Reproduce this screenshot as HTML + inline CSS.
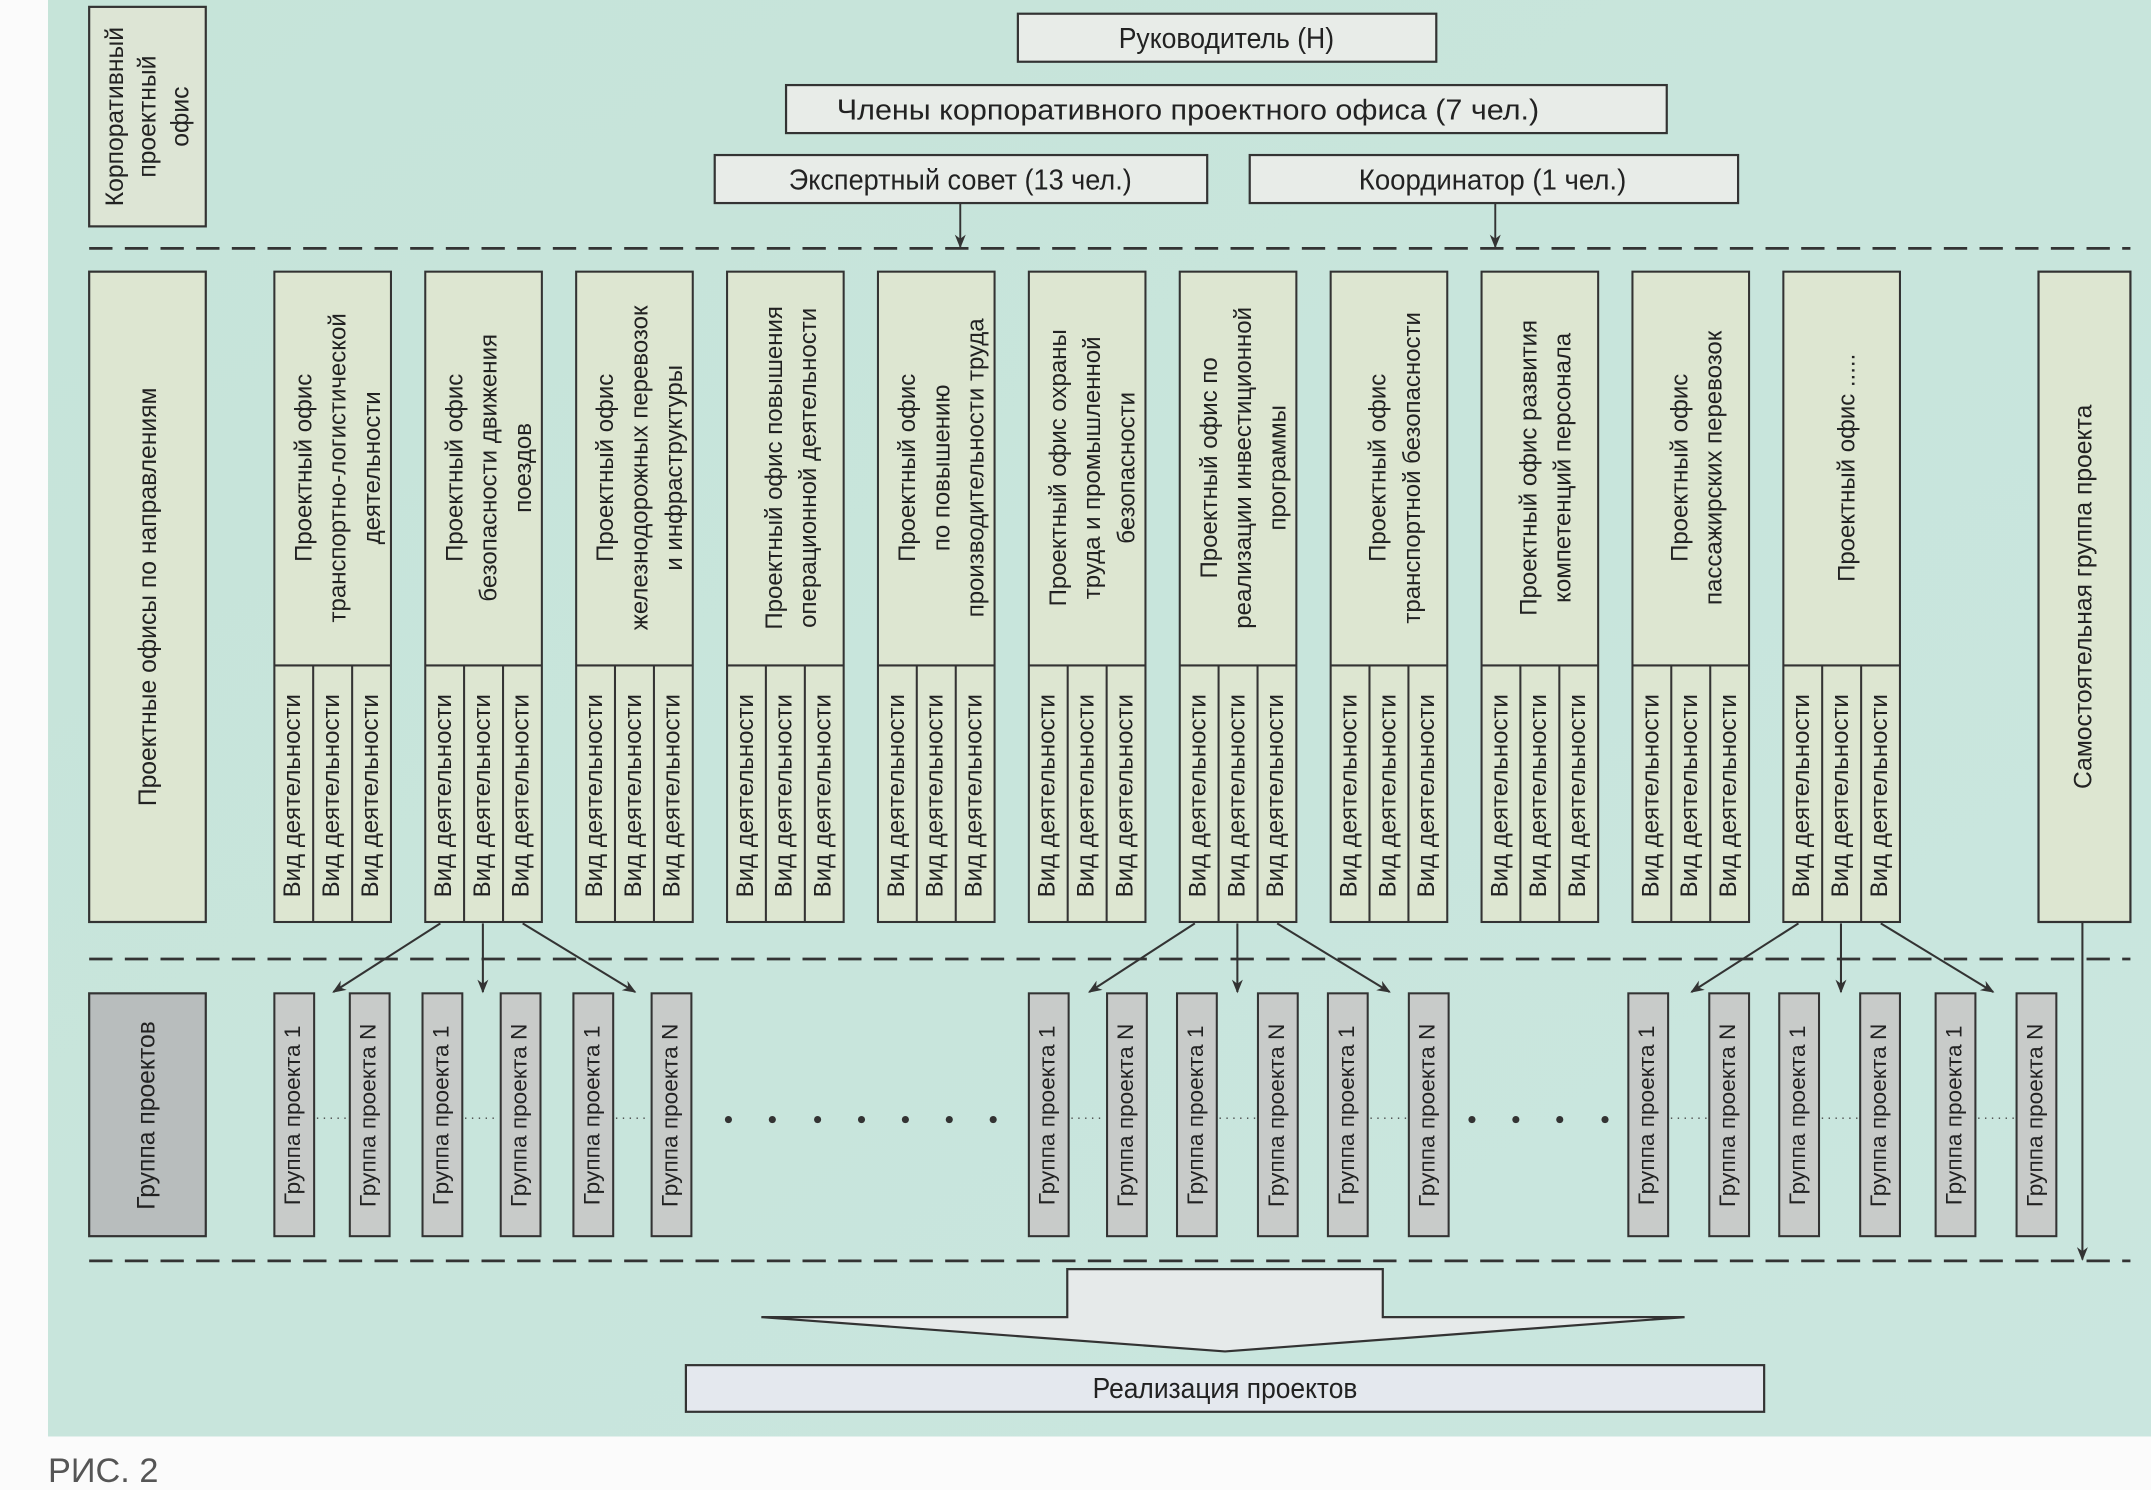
<!DOCTYPE html>
<html><head><meta charset="utf-8"><style>
html,body{margin:0;padding:0;background:#fff;}
svg{display:block;}
text{font-family:"Liberation Sans",Arial,sans-serif;fill:#222;}
</style></head><body>
<svg width="2151" height="1490" viewBox="0 0 1568 1086" preserveAspectRatio="none" xmlns="http://www.w3.org/2000/svg">
<defs>
<marker id="ah" markerWidth="10" markerHeight="10" refX="9" refY="5" orient="auto" markerUnits="userSpaceOnUse">
<path d="M0,1 L10,5 L0,9 L3,5 Z" fill="#333"/>
</marker>
<linearGradient id="bg" x1="0" y1="0" x2="1" y2="1">
<stop offset="0" stop-color="#c6e4d9"/><stop offset="1" stop-color="#cae6df"/>
</linearGradient>
</defs>
<rect x="0" y="0" width="1568" height="1086" fill="#fbfbfb"/>
<rect x="35" y="0" width="1533" height="1047" fill="url(#bg)"/>
<text x="35" y="1080" font-size="25" style="fill:#555">РИС. 2</text>

<g stroke="#333" stroke-width="1.6">
<rect x="65" y="5" width="85" height="160" fill="#dde5d5"/>
<rect x="742" y="10" width="305" height="35" fill="#e8ece8"/>
<rect x="573" y="62" width="642" height="35" fill="#e8ece8"/>
<rect x="521" y="113" width="359" height="35" fill="#e8ece8"/>
<rect x="911" y="113" width="356" height="35" fill="#e8ece8"/>
<line x1="700" y1="148" x2="700" y2="180" marker-end="url(#ah)" stroke-width="1.4"/>
<line x1="1090" y1="148" x2="1090" y2="180" marker-end="url(#ah)" stroke-width="1.4"/>
</g>
<text font-size="18" transform="translate(107.5,85) rotate(-90)" text-anchor="middle"><tspan x="0" dy="-18">Корпоративный</tspan><tspan x="0" dy="24">проектный</tspan><tspan x="0" dy="24">офис</tspan></text>
<text x="894" y="35" font-size="21" text-anchor="middle" textLength="157" lengthAdjust="spacingAndGlyphs">Руководитель (Н)</text>
<text x="866" y="87" font-size="21" text-anchor="middle" textLength="512" lengthAdjust="spacingAndGlyphs">Члены корпоративного проектного офиса (7 чел.)</text>
<text x="700" y="138" font-size="21" text-anchor="middle" textLength="250" lengthAdjust="spacingAndGlyphs">Экспертный совет (13 чел.)</text>
<text x="1088" y="138" font-size="21" text-anchor="middle" textLength="195" lengthAdjust="spacingAndGlyphs">Координатор (1 чел.)</text>

<g stroke="#333" stroke-width="2" stroke-dasharray="17 9">
<line x1="65" y1="181" x2="1553" y2="181"/>
<line x1="65" y1="699" x2="1553" y2="699"/>
<line x1="65" y1="919" x2="1553" y2="919"/>
</g>

<g stroke="#333" stroke-width="1.6">
<rect x="65" y="198" width="85" height="474" fill="#dde6d1"/>
<rect x="1486" y="198" width="67" height="474" fill="#dde6d1"/>
<rect x="65" y="724" width="85" height="177" fill="#b8bdbd"/>
</g>
<text font-size="18" transform="translate(109,435) rotate(-90)" text-anchor="middle" dominant-baseline="middle">Проектные офисы по направлениям</text>
<text font-size="18" transform="translate(1520,435) rotate(-90)" text-anchor="middle" dominant-baseline="middle">Самостоятельная группа проекта</text>
<text font-size="18" transform="translate(108,813) rotate(-90)" text-anchor="middle" dominant-baseline="middle">Группа проектов</text>

<g stroke="#333" stroke-width="1.5" fill="#dde6d1">
<rect x="200" y="198" width="85" height="474"/><line x1="200" y1="485" x2="285" y2="485"/><line x1="228.3" y1="485" x2="228.3" y2="672"/><line x1="256.7" y1="485" x2="256.7" y2="672"/>
<rect x="310" y="198" width="85" height="474"/><line x1="310" y1="485" x2="395" y2="485"/><line x1="338.3" y1="485" x2="338.3" y2="672"/><line x1="366.7" y1="485" x2="366.7" y2="672"/>
<rect x="420" y="198" width="85" height="474"/><line x1="420" y1="485" x2="505" y2="485"/><line x1="448.3" y1="485" x2="448.3" y2="672"/><line x1="476.7" y1="485" x2="476.7" y2="672"/>
<rect x="530" y="198" width="85" height="474"/><line x1="530" y1="485" x2="615" y2="485"/><line x1="558.3" y1="485" x2="558.3" y2="672"/><line x1="586.7" y1="485" x2="586.7" y2="672"/>
<rect x="640" y="198" width="85" height="474"/><line x1="640" y1="485" x2="725" y2="485"/><line x1="668.3" y1="485" x2="668.3" y2="672"/><line x1="696.7" y1="485" x2="696.7" y2="672"/>
<rect x="750" y="198" width="85" height="474"/><line x1="750" y1="485" x2="835" y2="485"/><line x1="778.3" y1="485" x2="778.3" y2="672"/><line x1="806.7" y1="485" x2="806.7" y2="672"/>
<rect x="860" y="198" width="85" height="474"/><line x1="860" y1="485" x2="945" y2="485"/><line x1="888.3" y1="485" x2="888.3" y2="672"/><line x1="916.7" y1="485" x2="916.7" y2="672"/>
<rect x="970" y="198" width="85" height="474"/><line x1="970" y1="485" x2="1055" y2="485"/><line x1="998.3" y1="485" x2="998.3" y2="672"/><line x1="1026.7" y1="485" x2="1026.7" y2="672"/>
<rect x="1080" y="198" width="85" height="474"/><line x1="1080" y1="485" x2="1165" y2="485"/><line x1="1108.3" y1="485" x2="1108.3" y2="672"/><line x1="1136.7" y1="485" x2="1136.7" y2="672"/>
<rect x="1190" y="198" width="85" height="474"/><line x1="1190" y1="485" x2="1275" y2="485"/><line x1="1218.3" y1="485" x2="1218.3" y2="672"/><line x1="1246.7" y1="485" x2="1246.7" y2="672"/>
<rect x="1300" y="198" width="85" height="474"/><line x1="1300" y1="485" x2="1385" y2="485"/><line x1="1328.3" y1="485" x2="1328.3" y2="672"/><line x1="1356.7" y1="485" x2="1356.7" y2="672"/>
</g>

<g font-size="17.5" text-anchor="middle">
<text transform="translate(246,341) rotate(-90)"><tspan x="0" dy="-19">Проектный офис</tspan><tspan x="0" dy="25">транспортно-логистической</tspan><tspan x="0" dy="25">деятельности</tspan></text>
<text transform="translate(356,341) rotate(-90)"><tspan x="0" dy="-19">Проектный офис</tspan><tspan x="0" dy="25">безопасности движения</tspan><tspan x="0" dy="25">поездов</tspan></text>
<text transform="translate(466,341) rotate(-90)"><tspan x="0" dy="-19">Проектный офис</tspan><tspan x="0" dy="25">железнодорожных перевозок</tspan><tspan x="0" dy="25">и инфраструктуры</tspan></text>
<text transform="translate(576,341) rotate(-90)"><tspan x="0" dy="-6">Проектный офис повышения</tspan><tspan x="0" dy="25">операционной деятельности</tspan></text>
<text transform="translate(686,341) rotate(-90)"><tspan x="0" dy="-19">Проектный офис</tspan><tspan x="0" dy="25">по повышению</tspan><tspan x="0" dy="25">производительности труда</tspan></text>
<text transform="translate(796,341) rotate(-90)"><tspan x="0" dy="-19">Проектный офис охраны</tspan><tspan x="0" dy="25">труда и промышленной</tspan><tspan x="0" dy="25">безопасности</tspan></text>
<text transform="translate(906,341) rotate(-90)"><tspan x="0" dy="-19">Проектный офис по</tspan><tspan x="0" dy="25">реализации инвестиционной</tspan><tspan x="0" dy="25">программы</tspan></text>
<text transform="translate(1016,341) rotate(-90)"><tspan x="0" dy="-6">Проектный офис</tspan><tspan x="0" dy="25">транспортной безопасности</tspan></text>
<text transform="translate(1126,341) rotate(-90)"><tspan x="0" dy="-6">Проектный офис развития</tspan><tspan x="0" dy="25">компетенций персонала</tspan></text>
<text transform="translate(1236,341) rotate(-90)"><tspan x="0" dy="-6">Проектный офис</tspan><tspan x="0" dy="25">пассажирских перевозок</tspan></text>
<text transform="translate(1346,341) rotate(-90)"><tspan x="0" dy="6">Проектный офис .....</tspan></text>
</g>

<g font-size="17.5" text-anchor="middle" dominant-baseline="middle">
<text transform="translate(214.2,580) rotate(-90)">Вид деятельности</text><text transform="translate(242.5,580) rotate(-90)">Вид деятельности</text><text transform="translate(270.8,580) rotate(-90)">Вид деятельности</text>
<text transform="translate(324.2,580) rotate(-90)">Вид деятельности</text><text transform="translate(352.5,580) rotate(-90)">Вид деятельности</text><text transform="translate(380.8,580) rotate(-90)">Вид деятельности</text>
<text transform="translate(434.2,580) rotate(-90)">Вид деятельности</text><text transform="translate(462.5,580) rotate(-90)">Вид деятельности</text><text transform="translate(490.8,580) rotate(-90)">Вид деятельности</text>
<text transform="translate(544.2,580) rotate(-90)">Вид деятельности</text><text transform="translate(572.5,580) rotate(-90)">Вид деятельности</text><text transform="translate(600.8,580) rotate(-90)">Вид деятельности</text>
<text transform="translate(654.2,580) rotate(-90)">Вид деятельности</text><text transform="translate(682.5,580) rotate(-90)">Вид деятельности</text><text transform="translate(710.8,580) rotate(-90)">Вид деятельности</text>
<text transform="translate(764.2,580) rotate(-90)">Вид деятельности</text><text transform="translate(792.5,580) rotate(-90)">Вид деятельности</text><text transform="translate(820.8,580) rotate(-90)">Вид деятельности</text>
<text transform="translate(874.2,580) rotate(-90)">Вид деятельности</text><text transform="translate(902.5,580) rotate(-90)">Вид деятельности</text><text transform="translate(930.8,580) rotate(-90)">Вид деятельности</text>
<text transform="translate(984.2,580) rotate(-90)">Вид деятельности</text><text transform="translate(1012.5,580) rotate(-90)">Вид деятельности</text><text transform="translate(1040.8,580) rotate(-90)">Вид деятельности</text>
<text transform="translate(1094.2,580) rotate(-90)">Вид деятельности</text><text transform="translate(1122.5,580) rotate(-90)">Вид деятельности</text><text transform="translate(1150.8,580) rotate(-90)">Вид деятельности</text>
<text transform="translate(1204.2,580) rotate(-90)">Вид деятельности</text><text transform="translate(1232.5,580) rotate(-90)">Вид деятельности</text><text transform="translate(1260.8,580) rotate(-90)">Вид деятельности</text>
<text transform="translate(1314.2,580) rotate(-90)">Вид деятельности</text><text transform="translate(1342.5,580) rotate(-90)">Вид деятельности</text><text transform="translate(1370.8,580) rotate(-90)">Вид деятельности</text>
</g>

<g stroke="#333" stroke-width="1.5" fill="none">
<line x1="321" y1="673" x2="243" y2="723" marker-end="url(#ah)"/>
<line x1="352" y1="673" x2="352" y2="723" marker-end="url(#ah)"/>
<line x1="381" y1="673" x2="463" y2="723" marker-end="url(#ah)"/>
<line x1="871" y1="673" x2="794" y2="723" marker-end="url(#ah)"/>
<line x1="902" y1="673" x2="902" y2="723" marker-end="url(#ah)"/>
<line x1="931" y1="673" x2="1013" y2="723" marker-end="url(#ah)"/>
<line x1="1311" y1="673" x2="1233" y2="723" marker-end="url(#ah)"/>
<line x1="1342" y1="673" x2="1342" y2="723" marker-end="url(#ah)"/>
<line x1="1371" y1="673" x2="1453" y2="723" marker-end="url(#ah)"/>
<line x1="1518" y1="672" x2="1518" y2="918" marker-end="url(#ah)"/>
</g>

<g stroke="#333" stroke-width="1.5" fill="#c8cbc9">
<rect x="200" y="724" width="29" height="177"/><rect x="255" y="724" width="29" height="177"/><rect x="308" y="724" width="29" height="177"/><rect x="365" y="724" width="29" height="177"/><rect x="418" y="724" width="29" height="177"/><rect x="475" y="724" width="29" height="177"/>
<rect x="750" y="724" width="29" height="177"/><rect x="807" y="724" width="29" height="177"/><rect x="858" y="724" width="29" height="177"/><rect x="917" y="724" width="29" height="177"/><rect x="968" y="724" width="29" height="177"/><rect x="1027" y="724" width="29" height="177"/>
<rect x="1187" y="724" width="29" height="177"/><rect x="1246" y="724" width="29" height="177"/><rect x="1297" y="724" width="29" height="177"/><rect x="1356" y="724" width="29" height="177"/><rect x="1411" y="724" width="29" height="177"/><rect x="1470" y="724" width="29" height="177"/>
</g>
<g font-size="16.5" text-anchor="middle" dominant-baseline="middle">
<text transform="translate(214.5,813) rotate(-90)">Группа проекта 1</text><text transform="translate(269.5,813) rotate(-90)">Группа проекта N</text><text transform="translate(322.5,813) rotate(-90)">Группа проекта 1</text><text transform="translate(379.5,813) rotate(-90)">Группа проекта N</text><text transform="translate(432.5,813) rotate(-90)">Группа проекта 1</text><text transform="translate(489.5,813) rotate(-90)">Группа проекта N</text>
<text transform="translate(764.5,813) rotate(-90)">Группа проекта 1</text><text transform="translate(821.5,813) rotate(-90)">Группа проекта N</text><text transform="translate(872.5,813) rotate(-90)">Группа проекта 1</text><text transform="translate(931.5,813) rotate(-90)">Группа проекта N</text><text transform="translate(982.5,813) rotate(-90)">Группа проекта 1</text><text transform="translate(1041.5,813) rotate(-90)">Группа проекта N</text>
<text transform="translate(1201.5,813) rotate(-90)">Группа проекта 1</text><text transform="translate(1260.5,813) rotate(-90)">Группа проекта N</text><text transform="translate(1311.5,813) rotate(-90)">Группа проекта 1</text><text transform="translate(1370.5,813) rotate(-90)">Группа проекта N</text><text transform="translate(1425.5,813) rotate(-90)">Группа проекта 1</text><text transform="translate(1484.5,813) rotate(-90)">Группа проекта N</text>
</g>
<g stroke="#444" stroke-width="1" stroke-dasharray="1 4">
<line x1="231" y1="815" x2="254" y2="815"/><line x1="339" y1="815" x2="364" y2="815"/><line x1="449" y1="815" x2="474" y2="815"/>
<line x1="781" y1="815" x2="806" y2="815"/><line x1="889" y1="815" x2="916" y2="815"/><line x1="999" y1="815" x2="1026" y2="815"/>
<line x1="1218" y1="815" x2="1245" y2="815"/><line x1="1328" y1="815" x2="1355" y2="815"/><line x1="1442" y1="815" x2="1469" y2="815"/>
</g>
<g fill="#333">
<circle cx="531" cy="816" r="2.6"/><circle cx="563" cy="816" r="2.6"/><circle cx="596" cy="816" r="2.6"/><circle cx="628" cy="816" r="2.6"/><circle cx="660" cy="816" r="2.6"/><circle cx="692" cy="816" r="2.6"/><circle cx="724" cy="816" r="2.6"/>
<circle cx="1073" cy="816" r="2.6"/><circle cx="1105" cy="816" r="2.6"/><circle cx="1137" cy="816" r="2.6"/><circle cx="1170" cy="816" r="2.6"/>
</g>

<path d="M778,925 L1008,925 L1008,960 L1228,960 L893,985 L555,960 L778,960 Z" fill="#e6eaea" stroke="#333" stroke-width="1.6"/>
<rect x="500" y="995" width="786" height="34" fill="#e4e8ee" stroke="#333" stroke-width="1.6"/>
<text x="893" y="1019" font-size="21" text-anchor="middle" textLength="193" lengthAdjust="spacingAndGlyphs">Реализация проектов</text>
</svg>
</body></html>
